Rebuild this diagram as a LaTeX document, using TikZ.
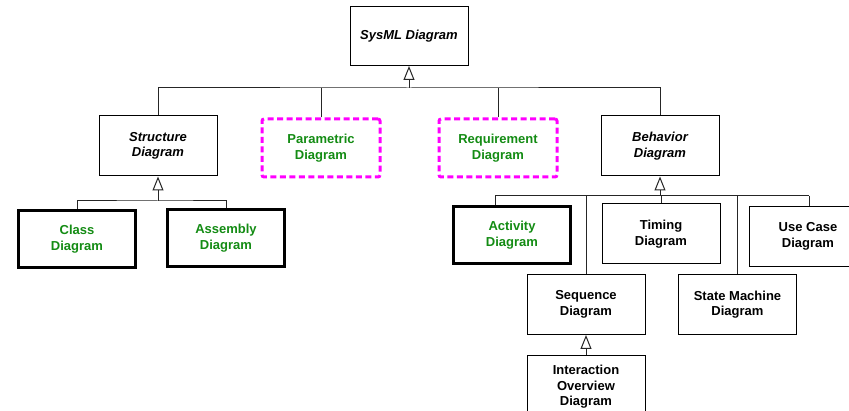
\documentclass[tikz,border=0pt]{standalone}
\usepackage{fontspec}
\setmainfont{Liberation Sans}
\usetikzlibrary{arrows.meta}
\definecolor{dgreen}{RGB}{20,140,20}
\definecolor{mag}{RGB}{255,0,255}
\begin{document}
\begin{tikzpicture}[x=1pt,y=-1pt,
  box/.style={draw=black,line width=1pt,fill=white,inner sep=0pt,align=center,
    minimum width=118pt,minimum height=60pt,font=\fontsize{13}{15.5}\selectfont\bfseries},
  abstract/.style={box,font=\fontsize{13}{15.5}\selectfont\bfseries\itshape},
  thickbox/.style={box,line width=3.5pt,minimum width=117pt,minimum height=57pt,text=dgreen},
  dashbox/.style={box,draw=mag,line width=3pt,dash pattern=on 6pt off 3.5pt,rounded corners=2pt,
    minimum width=118pt,minimum height=58pt,text=dgreen},
  conn/.style={draw=black!85,line width=1pt},
  gen/.style={conn,-{Triangle[open,length=14pt,width=11pt,line width=1pt]}}]
\clip (0,0) rectangle (849,411);
\fill[white] (0,0) rectangle (849,411);
% nodes
\node[abstract,minimum height=59pt] (sysml) at (409,36) {SysML Diagram};
\node[abstract] (struct) at (158,146) {Structure\\Diagram};
\node[dashbox] (param) at (321,148) {Parametric\\Diagram};
\node[dashbox] (req) at (498,148) {Requirement\\Diagram};
\node[abstract] (behav) at (660,146) {Behavior\\Diagram};
\node[thickbox] (class) at (77,239) {Class\\Diagram};
\node[thickbox] (assem) at (226,238) {Assembly\\Diagram};
\node[thickbox] (act) at (512,235) {Activity\\Diagram};
\node[box] (timing) at (661,234) {Timing\\Diagram};
\node[box] (usecase) at (808,236.5) {Use Case\\Diagram};
\node[box] (seq) at (586,304.5) {Sequence\\Diagram};
\node[box] (state) at (737.5,304.5) {State Machine\\Diagram};
\node[box,minimum height=62pt] (io) at (586,387) {Interaction\\Overview\\Diagram};
% top level tree
\coordinate (b1) at (409,88);
\draw[conn] (struct.north) |- (b1) -| (behav.north);
\draw[conn] (param.north) -- (param.north |- b1);
\draw[conn] (req.north) -- (req.north |- b1);
\draw[gen] (b1) -- (sysml.south);
% structure tree
\coordinate (b2) at (158,201);
\draw[conn] (class.north) |- (b2) -| (assem.north);
\draw[gen] (b2) -- (struct.south);
% behavior tree
\coordinate (b3) at (660,196);
\coordinate (bl) at (495,196);
\coordinate (br) at (809,196);
\draw[conn] (bl) -- (br);
\draw[conn] (bl) -- (bl |- act.north);
\draw[conn] (br) -- (br |- usecase.north);
\draw[conn] (seq.north) -- (seq.north |- b3);
\draw[conn] (state.north) -- (state.north |- b3);
\draw[conn] (timing.north) -- (timing.north |- b3);
\draw[gen] (b3) -- (behav.south);
% sequence tree
\draw[gen] (io.north) -- (seq.south);
\end{tikzpicture}
\end{document}
